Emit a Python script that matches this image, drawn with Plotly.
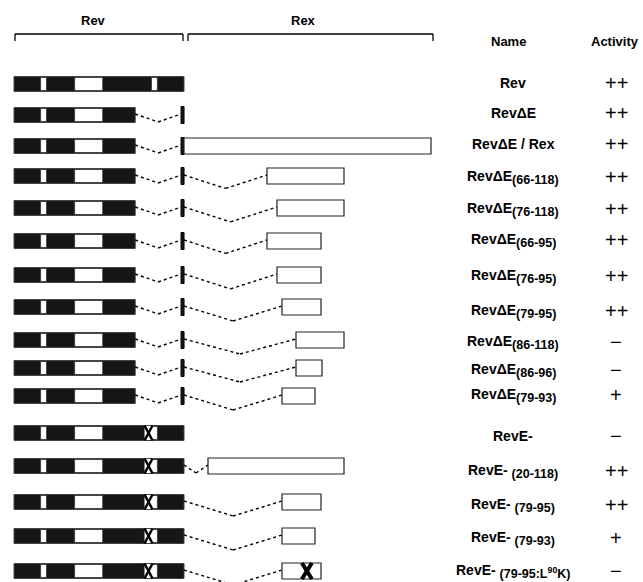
import numpy as np
import plotly.graph_objects as go

# ---------------- data ----------------
names = [
    "Rev", "RevΔE", "RevΔE\u00a0/\u00a0Rex",
    "RevΔE", "RevΔE", "RevΔE", "RevΔE", "RevΔE", "RevΔE", "RevΔE", "RevΔE",
    "RevE-", "RevE-\u00a0", "RevE-\u00a0", "RevE-\u00a0", "RevE-\u00a0",
]
name_subs = [
    "", "", "",
    "(66-118)", "(76-118)", "(66-95)", "(76-95)", "(79-95)", "(86-118)", "(86-96)", "(79-93)",
    "", "(20-118)", "(79-95)", "(79-93)", "(79-95:L<sup>90</sup>K)",
]
activity = ["++", "++", "++", "++", "++", "++", "++", "++",
            "\u2212", "\u2212", "+", "\u2212", "++", "++", "+", "\u2212"]
# Rev part: "full" = wild-type Rev, "dE" = Rev deleted of E region, "Em" = RevE- point mutant
rev_form = ["full", "dE", "dE", "dE", "dE", "dE", "dE", "dE", "dE", "dE", "dE",
            "Em", "Em", "Em", "Em", "Em"]
# Rex fragment fused (amino-acid range), None = no Rex part
rex_start = [None, None, 1, 66, 76, 66, 76, 79, 86, 86, 79, None, 20, 79, 79, 79]
rex_end = [None, None, 189, 118, 118, 95, 95, 95, 118, 96, 93, None, 118, 95, 93, 95]
rex_mutated = [False] * 15 + [True]

# Rev protein features (amino acids)
rev_length = 116
rev_white_blocks = [(19, 23), (42, 61), (94, 98)]
rev_dE_end = 83
rev_tail_start = 114
rev_Em_site = 92
rex_L90K_site = 90

# ---------------- schematic scales / layout ----------------
def rev_x(aa):
    return 14 + (np.asarray(aa, dtype=float) - 1) * 170.0 / (rev_length - 1)

rex_knots_aa = [1, 20, 66, 76, 79, 86, 93, 95, 96, 118, 189]
rex_knots_x = [184, 208, 267, 277, 282, 296, 315, 321, 322, 344, 431]
def rex_x(aa):
    return float(np.interp(aa, rex_knots_aa, rex_knots_x))

row_y = [84, 115, 146, 176, 208, 241, 275, 307, 340, 368, 396, 433, 466, 502, 536, 571]
label_y = [83, 113, 144, 177, 209, 240, 276, 311, 342, 370, 395, 436, 471, 505, 538, 571]
HALF = 7.5
DARK = "#161616"

shapes = []

def rect(x0, x1, y0, y1, fill, line="black", lw=1):
    shapes.append(dict(type="rect", xref="x", yref="y", x0=x0, x1=x1, y0=y0, y1=y1,
                       fillcolor=fill, line=dict(color=line, width=lw), layer="above"))

def seg(x0, y0, x1, y1, lw=1.3, dash=None, color="black"):
    ln = dict(color=color, width=lw)
    if dash:
        ln["dash"] = dash
    shapes.append(dict(type="line", xref="x", yref="y", x0=x0, y0=y0, x1=x1, y1=y1,
                       line=ln, layer="above"))

def vee(xa, xb, y):
    span = xb - xa
    dip = min(14, max(7, span * 0.15))
    xm = (xa + xb) / 2
    seg(xa, y - 1, xm, y + dip, lw=1.4, dash="dot")
    seg(xm, y + dip, xb, y - 1, lw=1.4, dash="dot")

def rev_bar(end_aa, y):
    x0, x1 = float(rev_x(1)), float(rev_x(end_aa))
    rect(x0, x1, y - HALF, y + HALF, DARK, line="#444", lw=1)
    for a, b in rev_white_blocks:
        if a < end_aa:
            rect(float(rev_x(a)), float(rev_x(min(b, end_aa))), y - HALF + 1, y + HALF - 1,
                 "white", line="#333", lw=0.8)

for i in range(len(names)):
    y = row_y[i]
    form = rev_form[i]
    if form == "full" or form == "Em":
        rev_bar(rev_length, y)
        last_x = float(rev_x(rev_length))
        if form == "Em":
            xm = float(rev_x(rev_Em_site))
            rect(xm - 4, xm + 4, y - HALF + 0.5, y + HALF - 0.5, "white", line="white", lw=0)
            seg(xm - 4, y - HALF, xm + 4, y + HALF, lw=2.5)
            seg(xm - 4, y + HALF, xm + 4, y - HALF, lw=2.5)
    else:
        rev_bar(rev_dE_end, y)
        xt = float(rev_x(rev_tail_start))
        vee(float(rev_x(rev_dE_end)), xt, y)
        rect(xt, xt + 3, y - HALF - 1, y + HALF + 1, DARK, line="black", lw=1)
        last_x = xt + 3
    if rex_start[i] is not None:
        xs, xe = rex_x(rex_start[i]), rex_x(rex_end[i])
        if xs - last_x > 3:
            vee(last_x, xs, y)
        rect(xs, xe, y - HALF - 0.5, y + HALF + 0.5, "white", line="#222", lw=1.2)
        if rex_mutated[i]:
            xm = rex_x(rex_L90K_site)
            seg(xm - 5, y - HALF - 0.5, xm + 5, y + HALF + 0.5, lw=4)
            seg(xm - 5, y + HALF + 0.5, xm + 5, y - HALF - 0.5, lw=4)

# header brackets
br_y, br_tick = 34, 41
for xa, xb in [(15, 183), (188, 433)]:
    seg(xa, br_y, xb, br_y, lw=1.3)
    seg(xa, br_y, xa, br_tick, lw=1.3)
    seg(xb, br_y, xb, br_tick, lw=1.3)

FONT = "Liberation Sans, Arial, sans-serif"
annotations = []
def txt(x, y, s, size, bold=True, xanchor="center", yanchor="middle"):
    annotations.append(dict(x=x, y=y, xref="x", yref="y", text=(f"<b>{s}</b>" if bold else s),
                            showarrow=False, xanchor=xanchor, yanchor=yanchor,
                            font=dict(family=FONT, size=size, color="black")))

txt(93, 20, "Rev", 13)
txt(303, 20, "Rex", 13)
txt(508, 41, "Name", 13)
txt(615, 41, "Activity", 13)

for i, nm in enumerate(names):
    sub = name_subs[i]
    if sub:
        s = f"{nm}<sub><span style='font-size:12.5px'>{sub}</span></sub>"
    else:
        s = nm
    txt(513, label_y[i], s, 14)
    txt(616, label_y[i], activity[i], 20, bold=False)

fig = go.Figure()
fig.add_trace(go.Scatter(x=[0, 643], y=[0, 582], mode="markers",
                         marker=dict(opacity=0), hoverinfo="skip", showlegend=False))
fig.update_layout(
    width=643, height=582, margin=dict(l=0, r=0, t=0, b=0),
    paper_bgcolor="white", plot_bgcolor="white",
    xaxis=dict(range=[0, 643], visible=False, fixedrange=True),
    yaxis=dict(range=[582, 0], visible=False, fixedrange=True),
    shapes=shapes, annotations=annotations, showlegend=False,
)
fig.write_html("out.html", config={"displayModeBar": False},
               post_script="document.body.style.margin='0';document.body.style.overflow='hidden';")
